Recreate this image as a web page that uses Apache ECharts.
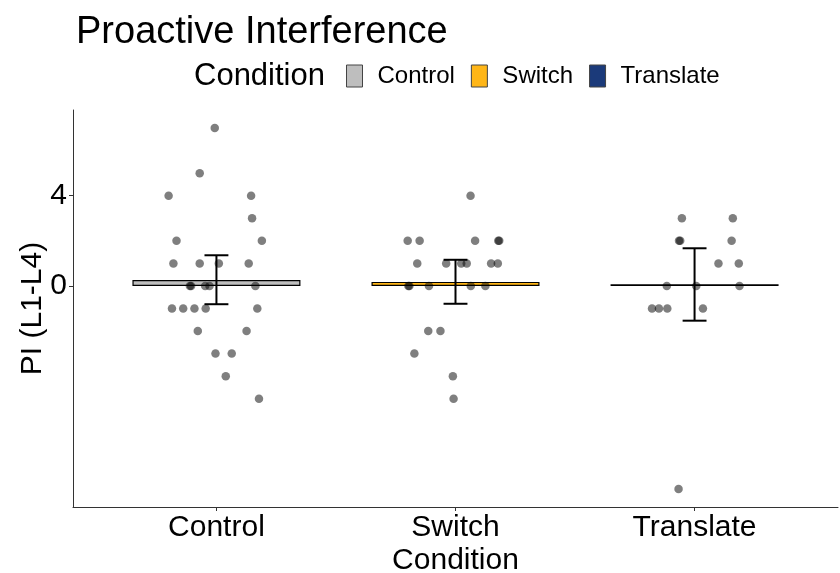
<!DOCTYPE html>
<html>
<head>
<meta charset="utf-8">
<script src="https://cdn.jsdelivr.net/npm/echarts@6/dist/echarts.min.js"></script>
<style>
  html, body { margin: 0; padding: 0; background: #fff; }
  #chart { width: 840px; height: 573px; }
</style>
</head>
<body>
<div id="chart"></div>
<script>
  // data
  const categories = ['Control', 'Switch', 'Translate']
  const means = [0.26, 0.18, 0.07]
  const ciLow = [-0.81, -0.79, -1.54]
  const ciHigh = [1.36, 1.16, 1.67]
  const yTicks = [0, 4]

  const controlValues = [7, 5, 4, 4, 3, 2, 2, 1, 1, 1, 1, 0, 0, 0, 0, 0, -1, -1, -1, -1, -1, -2, -2, -3, -3, -4, -5]
  const controlJitter = [-0.007, -0.07, -0.2, 0.145, 0.149, -0.167, 0.19, -0.18, -0.07, 0.01, 0.135, -0.111, -0.106, -0.047, -0.029, 0.163, -0.186, -0.139, -0.092, -0.045, 0.171, -0.078, 0.126, -0.004, 0.064, 0.039, 0.178]

  const switchValues = [4, 2, 2, 2, 2, 2, 1, 1, 1, 1, 1, 1, 0, 0, 0, 0, 0, -2, -2, -3, -4, -5]
  const switchJitter = [0.063, -0.2, -0.15, 0.082, 0.179, 0.183, -0.16, -0.039, 0.024, 0.047, 0.149, 0.177, -0.197, -0.193, -0.111, 0.064, 0.125, -0.114, -0.063, -0.172, -0.011, -0.008]

  const translateValues = [3, 3, 2, 2, 2, 1, 1, 0, 0, 0, -1, -1, -1, -1, -9]
  const translateJitter = [-0.053, 0.16, -0.065, -0.06, 0.155, 0.1, 0.185, -0.116, 0.007, 0.188, -0.178, -0.149, -0.114, 0.035, -0.067]

  const colors = ['#BEBEBE', '#FFB617', '#1B3A7A']
  const font = 'Liberation Sans, Arial, sans-serif'

  const pointSets = [
    [controlValues, controlJitter],
    [switchValues, switchJitter],
    [translateValues, translateJitter],
  ]
  const points = []
  pointSets.forEach(function (set, i) {
    set[0].forEach(function (v, k) {
      points.push([i + 1 + set[1][k], v])
    })
  })

  const barSeries = categories.map(function (name, i) {
    return {
      name: name,
      type: 'bar',
      barWidth: 168,
      barGap: '-100%',
      itemStyle: { color: colors[i], borderColor: '#000', borderWidth: 1.2 },
      z: 1,
      data: [[i + 1, means[i]]],
    }
  })

  const chart = echarts.init(document.getElementById('chart'), null, { renderer: 'canvas' })

  const option = {
    animation: false,
    backgroundColor: '#fff',
    textStyle: { fontFamily: font },
    title: [
      {
        text: 'Proactive Interference',
        left: 71,
        top: 9,
        textStyle: { fontFamily: font, fontSize: 38, fontWeight: 'normal', color: '#000' },
      },
      {
        text: 'Condition',
        left: 189,
        top: 56,
        textStyle: { fontFamily: font, fontSize: 31, fontWeight: 'normal', color: '#000' },
      },
    ],
    legend: {
      data: categories,
      left: 341,
      top: 59,
      itemWidth: 16,
      itemHeight: 22,
      itemGap: 16,
      icon: 'rect',
      itemStyle: { borderColor: '#444', borderWidth: 1 },
      textStyle: { fontFamily: font, fontSize: 24, color: '#000', padding: [0, 0, 0, 10] },
    },
    grid: { left: 73, right: 2, top: 110, bottom: 66, outerBoundsMode: 'none', containLabel: false },
    xAxis: {
      type: 'value',
      min: 0.4,
      max: 3.6,
      name: 'Condition',
      nameLocation: 'middle',
      nameGap: 39,
      nameMoveOverlap: false,
      nameTextStyle: { fontFamily: font, fontSize: 30, color: '#000' },
      splitLine: { show: false },
      axisLine: { show: true, onZero: false, lineStyle: { color: '#333', width: 1 } },
      axisTick: { show: true, length: 4, customValues: [1, 2, 3], lineStyle: { color: '#333' } },
      axisLabel: {
        customValues: [1, 2, 3],
        margin: 6,
        fontFamily: font,
        fontSize: 30,
        color: '#000',
        formatter: function (v) { return categories[Math.round(v) - 1] },
      },
    },
    yAxis: {
      type: 'value',
      min: -9.8,
      max: 7.8,
      name: 'PI (L1-L4)',
      nameLocation: 'middle',
      nameRotate: 90,
      nameGap: 25,
      nameMoveOverlap: false,
      nameTextStyle: { fontFamily: font, fontSize: 30, color: '#000' },
      splitLine: { show: false },
      axisLine: { show: true, onZero: false, lineStyle: { color: '#333', width: 1 } },
      axisTick: { show: true, length: 4, customValues: yTicks, lineStyle: { color: '#333' } },
      axisLabel: {
        customValues: yTicks,
        margin: 6,
        fontFamily: font,
        fontSize: 30,
        color: '#000',
      },
    },
    series: barSeries.concat([
      {
        type: 'scatter',
        symbolSize: 8.5,
        itemStyle: { color: 'rgba(0,0,0,0.5)', opacity: 1 },
        z: 2,
        data: points,
      },
      {
        type: 'custom',
        z: 3,
        data: categories.map(function (c, i) { return [i + 1, ciLow[i], ciHigh[i]] }),
        renderItem: function (params, api) {
          const x = api.value(0)
          const lo = api.coord([x, api.value(1)])
          const hi = api.coord([x, api.value(2)])
          const l = api.coord([x - 0.05, 0])[0]
          const r = api.coord([x + 0.05, 0])[0]
          const style = { stroke: '#000', lineWidth: 2 }
          return {
            type: 'group',
            children: [
              { type: 'line', shape: { x1: lo[0], y1: lo[1], x2: hi[0], y2: hi[1] }, style: style },
              { type: 'line', shape: { x1: l, y1: hi[1], x2: r, y2: hi[1] }, style: style },
              { type: 'line', shape: { x1: l, y1: lo[1], x2: r, y2: lo[1] }, style: style },
            ],
          }
        },
      },
    ]),
  }
  chart.setOption(option)
</script>
</body>
</html>
